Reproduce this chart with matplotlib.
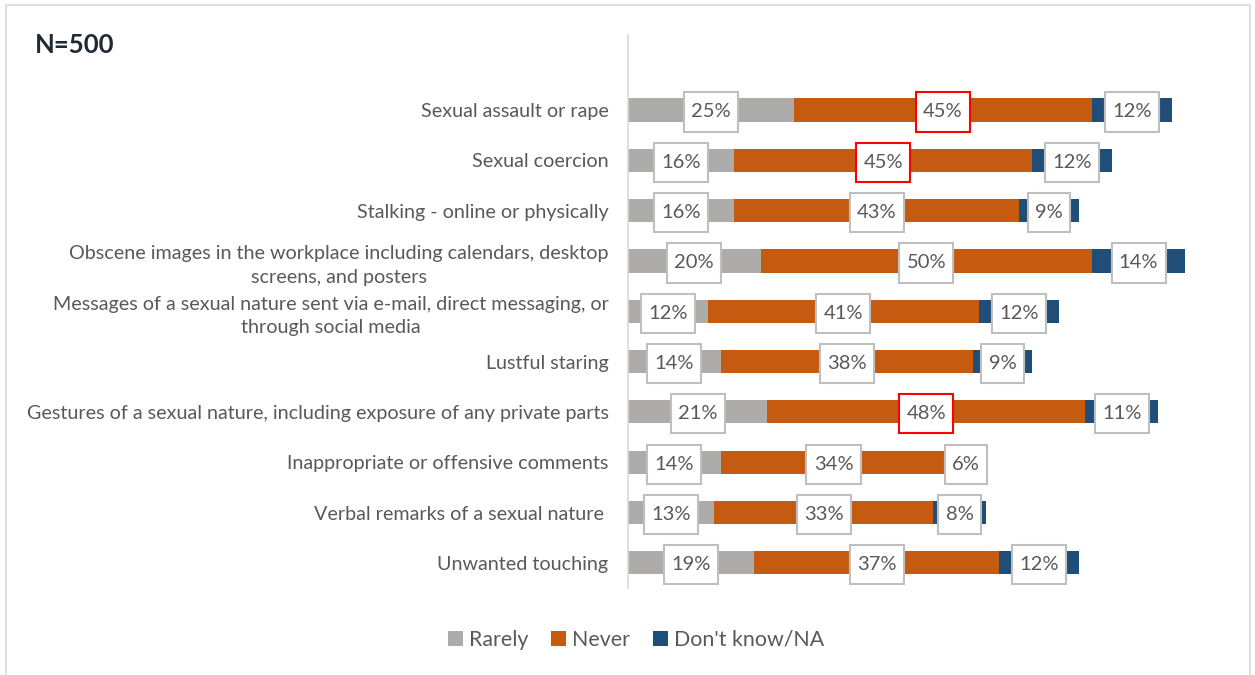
import matplotlib.pyplot as plt
from matplotlib.patches import Rectangle
from matplotlib.path import Path

plt.rcParams['font.family'] = ['Lato', 'DejaVu Sans']

categories = ['Sexual assault or rape',
              'Sexual coercion',
              'Stalking - online or physically',
              'Obscene images in the workplace including calendars, desktop\nscreens, and posters',
              'Messages of a sexual nature sent via e-mail, direct messaging, or\nthrough social media',
              'Lustful staring',
              'Gestures of a sexual nature, including exposure of any private parts',
              'Inappropriate or offensive comments',
              'Verbal remarks of a sexual nature ',
              'Unwanted touching']
rarely = [25, 16, 16, 20, 12, 14, 21, 14, 13, 19]
never = [45, 45, 43, 50, 41, 38, 48, 34, 33, 37]
dont_know = [12, 12, 9, 14, 12, 9, 11, 6, 8, 12]
# labels drawn with a red frame
highlight_never = [0, 1, 6]

series = ['Rarely', 'Never', "Don't know/NA"]
colors = ['#AEABAB', '#C55A11', '#1F4E79']


def label_box(x0, y0, width, height, mutation_size):
    # square box, more padding top/bottom than left/right
    px = 0.36 * mutation_size
    py = 0.55 * mutation_size
    x0, y0 = x0 - px, y0 - py
    x1, y1 = x0 + width + 2 * px, y0 + height + 2 * py
    return Path([(x0, y0), (x1, y0), (x1, y1), (x0, y1), (x0, y0)],
                closed=True)


W, H = 1255, 675
fig = plt.figure(figsize=(W / 100, H / 100), dpi=100)
fig.patch.set_facecolor('white')

# light frame round the whole chart area
fig.add_artist(Rectangle((6 / W, -0.05), 1244 / W, 1.05 - 5 / H, transform=fig.transFigure,
                         fill=False, ec='#D9D9D9', lw=1.2))

ax = fig.add_axes([628 / W, 1 - 588 / H, (1250 - 628) / W, (588 - 35) / H])
y = list(range(len(categories)))

left = [0] * len(categories)
for name, vals, col in zip(series, [rarely, never, dont_know], colors):
    bars = ax.barh(y, vals, left=left, height=0.46, color=col, label=name)
    for i, (b, v) in enumerate(zip(bars, vals)):
        ec = '#FF0000' if (name == 'Never' and i in highlight_never) else '#BFBFBF'
        ax.text(b.get_x() + b.get_width() / 2, b.get_y() + b.get_height() / 2 + 0.04, f'{v}%',
                ha='center', va='center', fontsize=14.5, color='#595959', zorder=5,
                bbox=dict(boxstyle=label_box, fc='white', ec=ec, lw=1.5))
    left = [l + v for l, v in zip(left, vals)]

ax.set_xlim(0, (1250 - 628) / 6.63)
ax.set_ylim(9.5, -1.49)
ax.set_yticks(y)
ax.set_yticklabels(categories, fontsize=14.2, color='#595959', multialignment='center',
                   linespacing=1.45)
ax.tick_params(axis='y', length=0, pad=14)
ax.set_xticks([])
for s in ['top', 'right', 'bottom']:
    ax.spines[s].set_visible(False)
ax.spines['left'].set_color('#D9D9D9')
ax.spines['left'].set_linewidth(1.2)

fig.text(35 / W, 1 - 45 / H, 'N=500', fontsize=18.5, fontweight='bold', color='#1F2A36',
         ha='left', va='center')

fig.legend(loc='center', bbox_to_anchor=(636 / W, 1 - 640 / H), ncol=3, frameon=False,
           fontsize=15.4, labelcolor='#595959', handlelength=0.7, handleheight=0.7,
           handletextpad=0.3, columnspacing=1.05)

fig.savefig('out.png', dpi=100, facecolor='white')
